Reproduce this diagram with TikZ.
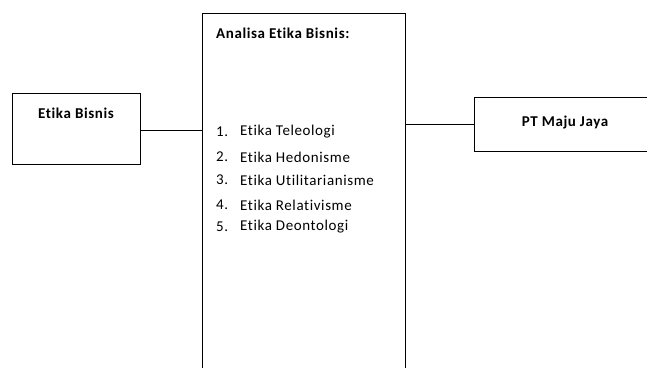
\documentclass[tikz,border=0pt]{standalone}
\usepackage{fontspec}
\setmainfont{Carlito}[LetterSpace=4,Ligatures={NoCommon}]
\begin{document}
\begin{tikzpicture}[x=1pt,y=-1pt,
  box/.style={draw=black,line width=0.9pt,rectangle,inner sep=0pt},
  ttl/.style={font=\fontsize{15}{16}\selectfont\bfseries,inner sep=0pt},
  itm/.style={font=\fontsize{15}{16}\selectfont,inner sep=0pt,anchor=west},
  conn/.style={draw=black,line width=0.9pt}]
\useasboundingbox (0,0) rectangle (647,367);
\clip (0,0) rectangle (647,367);
\node[box,minimum width=128pt,minimum height=71pt] (left) at (76,128.5) {};
\node[box,minimum width=203pt,minimum height=380pt] (mid) at (303.5,203) {};
\node[box,minimum width=182pt,minimum height=54pt] (right) at (565,124) {};
\node[ttl] (lt) at (76,113) {Etika Bisnis};
\node[ttl,anchor=west] (mt) at (216,33) {Analisa Etika Bisnis:};
\node[ttl] (rt) at (565,123) {PT Maju Jaya};
\node[itm] (n1) at (216,132) {1.};
\node[itm] (t1) at (240,132) {Etika Teleologi};
\node[itm] (n2) at (216,157) {2.};
\node[itm] (t2) at (240,157) {Etika Hedonisme};
\node[itm] (n3) at (216,180) {3.};
\node[itm] (t3) at (240,180) {Etika Utilitarianisme};
\node[itm] (n4) at (216,205) {4.};
\node[itm] (t4) at (240,205) {Etika Relativisme};
\node[itm] (n5) at (216,227) {5.};
\node[itm] (t5) at (240,227) {Etika Deontologi};
\coordinate (lc) at ([yshift=-1.5pt]left.east);
\draw[conn] (lc) -- (lc -| mid.west);
\draw[conn] (right.west) -- (right.west -| mid.east);
\end{tikzpicture}
\end{document}
